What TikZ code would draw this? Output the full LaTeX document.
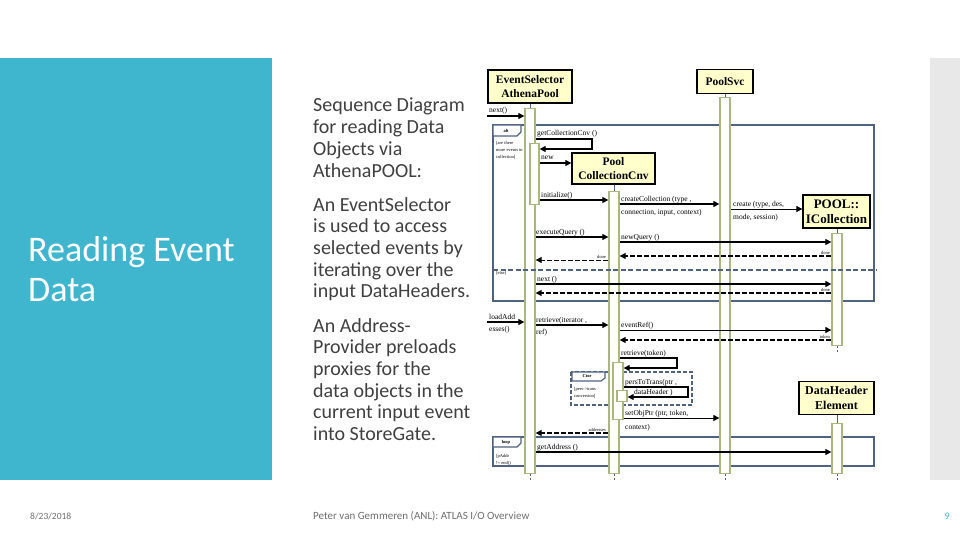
\documentclass[tikz,border=0pt]{standalone}
\usepackage{fontspec}
\setmainfont{Carlito}
\newfontfamily\dfont{Liberation Serif}
\usetikzlibrary{arrows.meta}
\definecolor{slideblue}{RGB}{64,182,206}
\definecolor{txtgray}{RGB}{64,64,64}
\definecolor{framec}{RGB}{79,98,128}
\definecolor{barc}{RGB}{170,184,128}
\definecolor{boxfill}{RGB}{255,255,204}
\definecolor{stripgray}{RGB}{232,232,232}
\definecolor{footgray}{RGB}{110,110,110}
\tikzset{
 lifebox/.style={draw=black, line width=1.3pt, fill=boxfill, align=center, font=\dfont\bfseries\fontsize{11.5}{14}\selectfont, inner sep=1pt},
 actbar/.style={draw=barc, line width=1.3pt, fill=white, minimum width=10pt, inner sep=0pt, anchor=north},
 msg/.style={draw=black, line width=1.2pt, -{Triangle[length=6pt,width=6pt]}},
 ret/.style={draw=black, line width=1.5pt, dash pattern=on 5pt off 2pt, -{Triangle[length=6pt,width=6pt]}},
 mlabel/.style={font=\dfont\fontsize{7.5}{8.5}\selectfont, inner sep=0pt, anchor=base west},
 tinylab/.style={font=\dfont\fontsize{4.5}{5.5}\selectfont, inner sep=0pt, anchor=base west},
 framebox/.style={draw=framec, line width=2pt},
 tabshape/.style={draw=framec, line width=1.2pt, fill=white},
 body/.style={font=\fontsize{20}{21.7}\selectfont, text=txtgray, align=left, inner sep=0pt, anchor=north west},
 life/.style={draw=framec, line width=0.8pt},
 lifeend/.style={draw=framec, line width=0.8pt, dash pattern=on 2pt off 1.5pt},
}
\begin{document}
\begin{tikzpicture}[x=1pt,y=-1pt]
\useasboundingbox (0,0) rectangle (960,540);
\fill[white] (0,0) rectangle (960,540);
\fill[slideblue] (0,58) rectangle (272,480);
\fill[stripgray] (930,58) rectangle (960,480);

% title and text
\node[font=\fontsize{36}{40}\selectfont, text=white, align=left, inner sep=0pt, anchor=north west] (title) at (28,236) {Reading Event\\Data};
\node[body] (p1) at (313,98) {Sequence Diagram\\for reading Data\\Objects via\\AthenaPOOL:};
\node[body] (p2) at (313,197) {An EventSelector\\is used to access\\selected events by\\iterating over the\\input DataHeaders.};
\node[body] (p3) at (313,318) {An Address-\\Provider preloads\\proxies for the\\data objects in the\\current input event\\into StoreGate.};

% footer
\node[font=\fontsize{9.5}{10}\selectfont, text=footgray, inner sep=0pt, anchor=base west] (date) at (30,519) {8/23/2018};
\node[font=\fontsize{11}{12}\selectfont, text=footgray, inner sep=0pt, anchor=base west] (foot) at (313,519) {Peter van Gemmeren (ANL): ATLAS I/O Overview};
\node[font=\fontsize{10}{11}\selectfont, text=slideblue, inner sep=0pt, anchor=base east] (pnum) at (950,519) {9};

% frames
\draw[framebox] (493,125) rectangle (874,301);
\draw[tabshape] (493,125) -- (521,125) -- (521,132) -- (517,136) -- (493,136) -- cycle;
\node[tinylab, anchor=center, font=\dfont\bfseries\fontsize{4.5}{5}\selectfont] (alttab) at (506,130.5) {alt};
\node[tinylab] (g1) at (496,145) {[are there};
\node[tinylab] (g2) at (496,152) {more events in};
\node[tinylab] (g3) at (496,159) {collection]};
\node[tinylab] (else) at (496,274) {[else]};

\draw[framec, line width=1.3pt, dash pattern=on 4pt off 2pt] (571,372) rectangle (692,405);
\draw[tabshape] (572,372) -- (605,372) -- (605,378) -- (601,381) -- (572,381) -- cycle;
\node[tinylab, anchor=center, font=\dfont\bfseries\fontsize{4.5}{5}\selectfont] (ctortab) at (587,376.5) {Ctor};
\node[tinylab] (g4) at (574,390) {[pers->trans};
\node[tinylab] (g5) at (574,397) {conversion]};

\draw[framebox] (493,437) rectangle (874,466);
\draw[tabshape] (493,437) -- (521,437) -- (521,443) -- (517,447) -- (493,447) -- cycle;
\node[tinylab, anchor=center, font=\dfont\bfseries\fontsize{4.5}{5}\selectfont] (looptab) at (506,442) {loop};
\node[tinylab] (g6) at (496,457) {[pAddr};
\node[tinylab] (g7) at (496,464) {!= end()};

% lifeline heads
\node[lifebox, minimum width=84pt, minimum height=33pt] (es) at (530,86.5) {EventSelector\\AthenaPool};
\node[lifebox, minimum width=56pt, minimum height=24pt] (svc) at (725,81.5) {PoolSvc};
\node[lifebox, minimum width=83pt, minimum height=31pt] (cnv) at (613.5,168.5) {Pool\\CollectionCnv};
\node[lifebox, minimum width=67pt, minimum height=33pt, font=\dfont\bfseries\fontsize{13}{15}\selectfont] (ic) at (836.5,211.5) {POOL::\\ICollection};
\node[lifebox, minimum width=75pt, minimum height=33pt, font=\dfont\bfseries\fontsize{12}{15}\selectfont] (dh) at (836.5,398) {DataHeader\\Element};

% activation bars
\node[actbar, minimum height=365pt] (esbar) at (530,108) {};
\node[actbar, minimum height=61pt, minimum width=9pt] (esin) at (534.5,143) {};
\node[actbar, minimum height=282pt] (cnvbar) at (614,191) {};
\node[actbar, minimum height=57pt] (cnvin) at (618,362) {};
\node[actbar, minimum height=11pt] (cnvin2) at (622,390) {};
\node[actbar, minimum height=376pt] (svcbar) at (725,97) {};
\node[actbar, minimum height=112pt] (icbar) at (837,233) {};
\node[actbar, minimum height=50pt] (dhbar) at (837,423) {};

% lifeline stubs
\draw[life] (es.south -| esbar.north) -- (esbar.north);
\draw[life] (svc.south) -- (svcbar.north);
\draw[life] (cnv.south -| cnvbar.north) -- (cnvbar.north);
\draw[life] (ic.south -| icbar.north) -- (icbar.north);
\draw[life] (dh.south -| dhbar.north) -- (dhbar.north);
\draw[lifeend] (esbar.south) -- ++(0,6);
\draw[lifeend] (cnvbar.south) -- ++(0,6);
\draw[lifeend] (svcbar.south) -- ++(0,6);
\draw[lifeend] (icbar.south) -- ++(0,6);
\draw[lifeend] (dhbar.south) -- ++(0,6);

% alt separator
\draw[framec, line width=1.5pt, dash pattern=on 5pt off 2.5pt] (493,270) -- (877,270);

% messages
\coordinate (f1) at (487,116);
\draw[msg] (f1) -- (esbar.west |- f1);
\node[mlabel] (l1) at (489,113) {next()};
\draw[msg] (esbar.east |- 0,139) -- (592,139) -- (592,149) -- (esin.east |- 0,149);
\node[mlabel] (l2) at (537,136) {getCollectionCnv ()};
\draw[msg] (esin.east |- 0,163) -- (cnv.west |- 0,163);
\node[mlabel] (l3) at (541,160) {new};
\draw[msg] (esin.east |- 0,200) -- (cnvbar.west |- 0,200);
\node[mlabel] (l4) at (541,197) {initialize()};
\draw[msg] (cnvbar.east |- 0,204) -- (svcbar.west |- 0,204);
\node[mlabel] (l5a) at (621,201) {createCollection (type ,};
\node[mlabel] (l5b) at (621,214) {connection, input, context)};
\draw[msg, line width=0.8pt] (svcbar.east |- 0,209) -- (ic.west |- 0,209);
\node[mlabel] (l6a) at (733,206) {create (type, des,};
\node[mlabel] (l6b) at (733,219) {mode, session)};
\draw[msg] (esbar.east |- 0,237) -- (cnvbar.west |- 0,237);
\node[mlabel] (l7) at (536,234) {executeQuery ()};
\draw[msg] (cnvbar.east |- 0,242) -- (icbar.west |- 0,242);
\node[mlabel] (l8) at (621,239) {newQuery ()};
\draw[ret] (icbar.west |- 0,256) -- (cnvbar.east |- 0,256);
\node[tinylab, anchor=base east] (d1) at (830,254) {done};
\draw[ret, line width=1pt] (cnvbar.west |- 0,260) -- (esbar.east |- 0,260);
\node[tinylab, anchor=base east] (d2) at (606,258) {done};
\draw[msg] (esbar.east |- 0,284) -- (icbar.west |- 0,284);
\node[mlabel] (l11) at (537,281) {next ()};
\draw[ret] (icbar.west |- 0,293) -- (esbar.east |- 0,293);
\node[tinylab, anchor=base east] (d3) at (830,291) {done};

\coordinate (f2) at (487,322);
\draw[msg] (f2) -- (esbar.west |- f2);
\node[mlabel] (l13a) at (489,319) {loadAdd};
\node[mlabel] (l13b) at (489,331) {esses()};
\draw[msg] (esbar.east |- 0,325) -- (cnvbar.west |- 0,325);
\node[mlabel] (l14a) at (536,322) {retrieve(iterator ,};
\node[mlabel] (l14b) at (536,334) {ref)};
\draw[msg, line width=0.9pt] (cnvbar.east |- 0,330) -- (icbar.west |- 0,330);
\node[mlabel] (l15) at (621,327) {eventRef()};
\draw[ret] (icbar.west |- 0,340) -- (cnvbar.east |- 0,340);
\node[tinylab, anchor=base east] (d4) at (830,338) {token};
\draw[msg] (cnvbar.east |- 0,358) -- (677,358) -- (677,368) -- (cnvin.east |- 0,368);
\node[mlabel] (l17) at (621,355) {retrieve(token)};
\draw[msg] (cnvin.east |- 0,387) -- (688,387) -- (688,397) -- (cnvin2.east |- 0,397);
\node[mlabel] (l18a) at (625,384) {persToTrans(ptr ,};
\node[mlabel] (l18b) at (634,394.5) {dataHeader )};
\draw[msg, line width=0.9pt] (cnvin.east |- 0,418) -- (svcbar.west |- 0,418);
\node[mlabel] (l19a) at (625,415) {setObjPtr (ptr, token,};
\node[mlabel] (l19b) at (625,429) {context)};
\draw[ret] (cnvbar.west |- 0,433) -- (esbar.east |- 0,433);
\node[tinylab, anchor=base east] (d5) at (606,431) {addresses};
\draw[msg] (esbar.east |- 0,452) -- (dhbar.west |- 0,452);
\node[mlabel] (l21) at (537,449) {getAddress ()};
\end{tikzpicture}
\end{document}
